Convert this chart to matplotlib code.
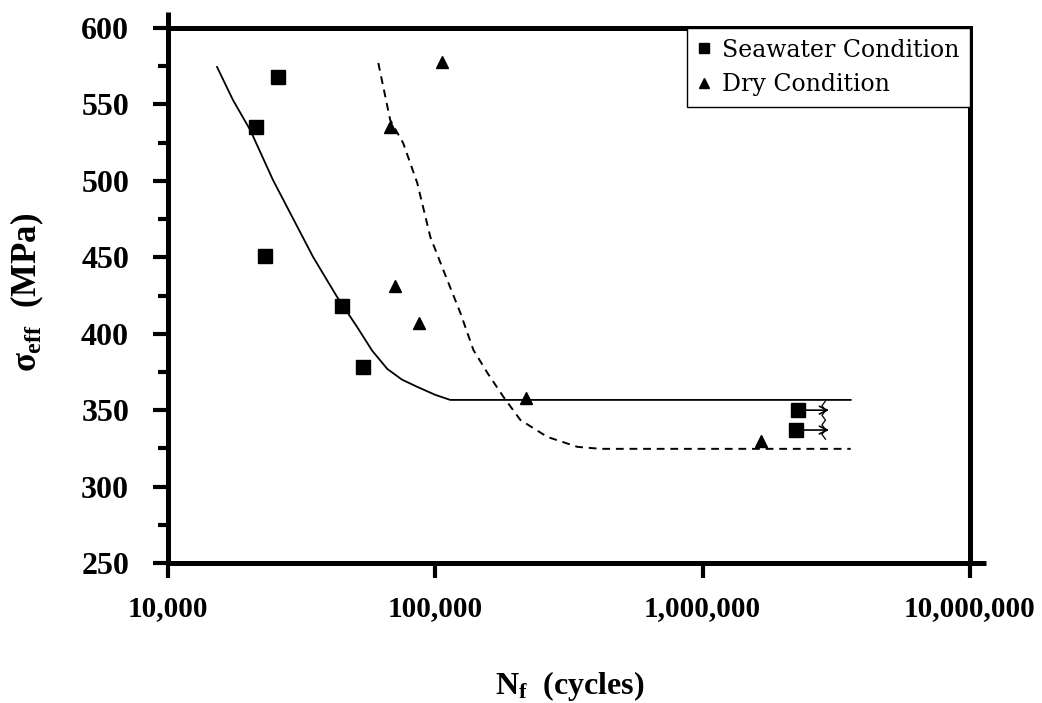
import numpy as np
import matplotlib
matplotlib.use('Agg')
import matplotlib.pyplot as plt
from matplotlib.ticker import FixedLocator, FuncFormatter, MultipleLocator, NullLocator

plt.rcParams['mathtext.fontset'] = 'custom'
plt.rcParams['mathtext.rm'] = 'Liberation Serif:bold'
plt.rcParams['mathtext.it'] = 'Liberation Serif:bold'
plt.rcParams['mathtext.bf'] = 'Liberation Serif:bold'

# test data: cycles to failure and effective stress
sea_n = [25800, 21400, 23100, 44900, 53700]
sea_s = [568, 535, 451, 418, 378]
sea_runout_n = [2270000, 2240000]
sea_runout_s = [350, 337]
runout_end_n = 2970000

dry_n = [106000, 67800, 70800, 87100, 219000, 1660000]
dry_s = [578, 535, 431, 407, 358, 330]

# hand-drawn S-N trend curves
sea_fit_n = [15260, 17500, 20300, 24700, 34900, 42900, 51000, 58000, 66100, 75000,
             85700, 100000, 113800, 3580000]
sea_fit_s = [574.5, 552.9, 533.3, 500.6, 450.2, 424.1, 404.4, 389.0, 377.0, 370.0,
             365.2, 360.0, 356.7, 356.7]
dry_fit_n = [61200, 67800, 75800, 85600, 95800, 107100, 124100, 138800, 156600,
             179800, 208000, 262500, 340000, 415000, 3580000]
dry_fit_s = [577.1, 539.8, 524.8, 498.6, 463.3, 441.7, 413.6, 389.4, 374.4,
             358.7, 343.6, 332.5, 326.0, 324.7, 324.7]

x_ticks = [1e4, 1e5, 1e6, 1e7]

fig = plt.figure(figsize=(10.42, 7.03), dpi=100)
ax = fig.add_axes([0.1612, 0.1991, 0.7697, 0.7611])

ax.plot(sea_fit_n, sea_fit_s, color='black', lw=1.3)
ax.plot(dry_fit_n, dry_fit_s, color='black', lw=1.4, ls=(0, (4, 3)))

ax.plot(sea_n + sea_runout_n, sea_s + sea_runout_s, 's', color='black', ms=9.5,
        label='Seawater Condition')
ax.plot(dry_n, dry_s, '^', color='black', ms=9, label='Dry Condition')

# run-out arrows
for n, s in zip(sea_runout_n, sea_runout_s):
    ax.annotate('', xy=(runout_end_n, s), xytext=(n, s),
                arrowprops=dict(arrowstyle='->', color='black', lw=1.2,
                                shrinkA=0, shrinkB=0, mutation_scale=14))
zz_s = np.linspace(max(sea_runout_s) + 6, min(sea_runout_s) - 6, 9)
zz_n = runout_end_n * 0.97 * np.where(np.arange(9) % 2 == 0, 1.0, 0.97)
ax.plot(zz_n, zz_s, color='black', lw=0.9)

ax.set_xscale('log')
ax.set_xlim(1e4, 1e7)
ax.set_ylim(250, 600)
ax.xaxis.set_major_locator(FixedLocator(x_ticks))
ax.xaxis.set_minor_locator(NullLocator())
ax.xaxis.set_major_formatter(FuncFormatter(lambda v, p: '{:,.0f}'.format(v)))
ax.yaxis.set_major_locator(MultipleLocator(50))
ax.yaxis.set_minor_locator(MultipleLocator(25))

for sp in ax.spines.values():
    sp.set_linewidth(3.6)
ax.tick_params(axis='both', which='major', direction='out', length=11, width=3)
ax.tick_params(axis='y', which='minor', direction='out', length=7, width=3)
ax.tick_params(axis='x', pad=12, labelsize=21)
ax.tick_params(axis='y', pad=17, labelsize=23)
for lab in ax.get_xticklabels() + ax.get_yticklabels():
    lab.set_fontfamily('Liberation Serif')
    lab.set_fontweight('bold')

ax.set_xlabel(r'N$_{\rm f}$  (cycles)', fontsize=23, fontfamily='Liberation Serif',
              fontweight='bold')
ax.set_ylabel(r'$\sigma_{\rm eff}$  (MPa)', fontsize=25, fontfamily='Liberation Serif',
              fontweight='bold')
ax.xaxis.set_label_coords(0.501, -0.198)
ax.yaxis.set_label_coords(-0.152, 0.505)

# small overhangs of the frame
ax.plot([1.0, 1.02], [0, 0], transform=ax.transAxes, color='black', lw=3.6,
        clip_on=False, solid_capstyle='butt')
ax.plot([0, 0], [1.0, 1.03], transform=ax.transAxes, color='black', lw=3.6,
        clip_on=False, solid_capstyle='butt')

leg = ax.legend(loc='upper right', prop={'family': 'DejaVu Serif', 'size': 17},
                frameon=True, fancybox=False, edgecolor='black', framealpha=1,
                borderaxespad=0, handlelength=0.6, handletextpad=0.45,
                borderpad=0.45, labelspacing=0.5, markerscale=0.75)
leg.get_frame().set_linewidth(1.0)

fig.savefig('out.png', dpi=100)
